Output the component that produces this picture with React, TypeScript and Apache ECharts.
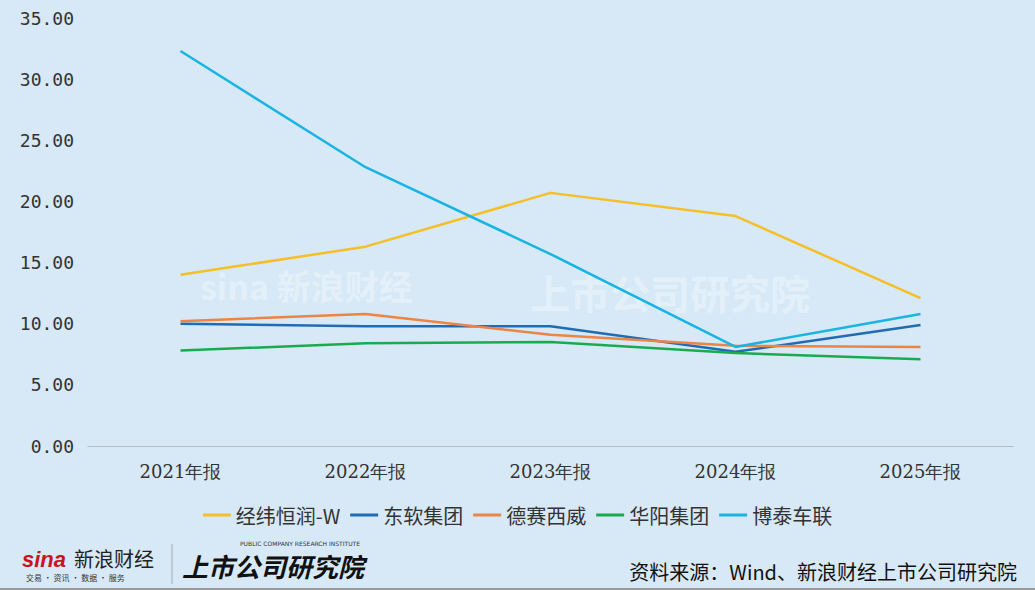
import React, { useEffect, useRef } from "react";
import * as echarts from "echarts";

const years = ["2021年报", "2022年报", "2023年报", "2024年报", "2025年报"];
const jingwei = [14.0, 16.3, 20.7, 18.8, 12.1];
const dongruan = [10.0, 9.8, 9.8, 7.7, 9.9];
const desai = [10.2, 10.8, 9.1, 8.2, 8.1];
const huayang = [7.8, 8.4, 8.5, 7.6, 7.1];
const botai = [32.3, 22.8, 15.7, 8.1, 10.8];

const seriesDefs = [
  { name: "经纬恒润-W", data: jingwei, color: "#f5bf27" },
  { name: "东软集团", data: dongruan, color: "#1f6cb5" },
  { name: "德赛西威", data: desai, color: "#ec8445" },
  { name: "华阳集团", data: huayang, color: "#1aab4f" },
  { name: "博泰车联", data: botai, color: "#1ab4e3" },
];

const App = () => {
  const ref = useRef<HTMLDivElement>(null);

  useEffect(() => {
    if (!ref.current) return;
    const chart = echarts.init(ref.current, undefined, { renderer: "svg" });
    chart.setOption({
      animation: false,
      backgroundColor: "#d7e9f6",
      grid: { left: 88, right: 22, top: 18, bottom: 144 },
      legend: {
        bottom: 60,
        left: "center",
        itemWidth: 28,
        itemHeight: 3,
        itemGap: 10,
        icon: "rect",
        textStyle: { fontSize: 20, color: "#333", fontFamily: "Noto Sans CJK SC" },
      },
      xAxis: {
        type: "category",
        data: years,
        axisTick: { show: false },
        axisLine: { lineStyle: { color: "#bbbbbb" } },
        axisLabel: { fontSize: 18, color: "#333", margin: 16, fontFamily: "DejaVu Serif" },
      },
      yAxis: {
        type: "value",
        min: 0,
        max: 35,
        interval: 5,
        splitLine: { show: false },
        axisLabel: {
          fontSize: 18,
          color: "#333",
          margin: 14,
          fontFamily: "DejaVu Sans Mono",
          formatter: (v: number) => v.toFixed(2),
        },
      },
      graphic: [
        {
          type: "text",
          left: 200,
          top: 268,
          style: { text: "sina 新浪财经", fontSize: 34, fontWeight: "bold", fill: "rgba(255,255,255,0.35)", fontFamily: "Noto Sans CJK SC" },
        },
        {
          type: "text",
          left: 530,
          top: 272,
          style: { text: "上市公司研究院", fontSize: 40, fontWeight: "bold", fill: "rgba(255,255,255,0.35)", fontFamily: "Noto Sans CJK SC" },
        },
        {
          type: "text",
          left: 22,
          top: 548,
          style: { text: "sina", fontSize: 22, fontWeight: "bold", fontStyle: "italic", fill: "#c8141e", fontFamily: "Liberation Sans" },
        },
        {
          type: "text",
          left: 74,
          top: 548,
          style: { text: "新浪财经", fontSize: 20, fill: "#222", fontFamily: "Noto Sans CJK SC" },
        },
        {
          type: "text",
          left: 26,
          top: 573,
          style: { text: "交易 · 资讯 · 数据 · 服务", fontSize: 8, fill: "#333", fontFamily: "Noto Sans CJK SC" },
        },
        {
          type: "line",
          shape: { x1: 172, y1: 544, x2: 172, y2: 584 },
          style: { stroke: "#aaa", lineWidth: 1 },
        },
        {
          type: "text",
          left: 182,
          top: 552,
          style: { text: "上市公司研究院", fontSize: 26, fontWeight: "bold", fontStyle: "italic", fill: "#111", fontFamily: "Noto Sans CJK SC" },
        },
        {
          type: "text",
          left: 240,
          top: 540,
          style: { text: "PUBLIC COMPANY RESEARCH INSTITUTE", fontSize: 6, fill: "#333", fontFamily: "DejaVu Sans" },
        },
        {
          type: "text",
          right: 18,
          top: 561,
          style: { text: "资料来源：Wind、新浪财经上市公司研究院", fontSize: 20, fill: "#111", fontFamily: "Noto Sans CJK SC" },
        },
        {
          type: "line",
          shape: { x1: 0, y1: 589, x2: 1035, y2: 589 },
          style: { stroke: "#999", lineWidth: 2 },
        },
      ],
      series: seriesDefs.map((s) => ({
        name: s.name,
        type: "line",
        data: s.data,
        symbol: "none",
        lineStyle: { width: 2.5, color: s.color },
        itemStyle: { color: s.color },
      })),
    });
    return () => chart.dispose();
  }, []);

  return (
    <div
      ref={ref}
      style={{ position: "fixed", left: 0, top: 0, width: 1035, height: 590 }}
    ></div>
  );
};

export default App;
